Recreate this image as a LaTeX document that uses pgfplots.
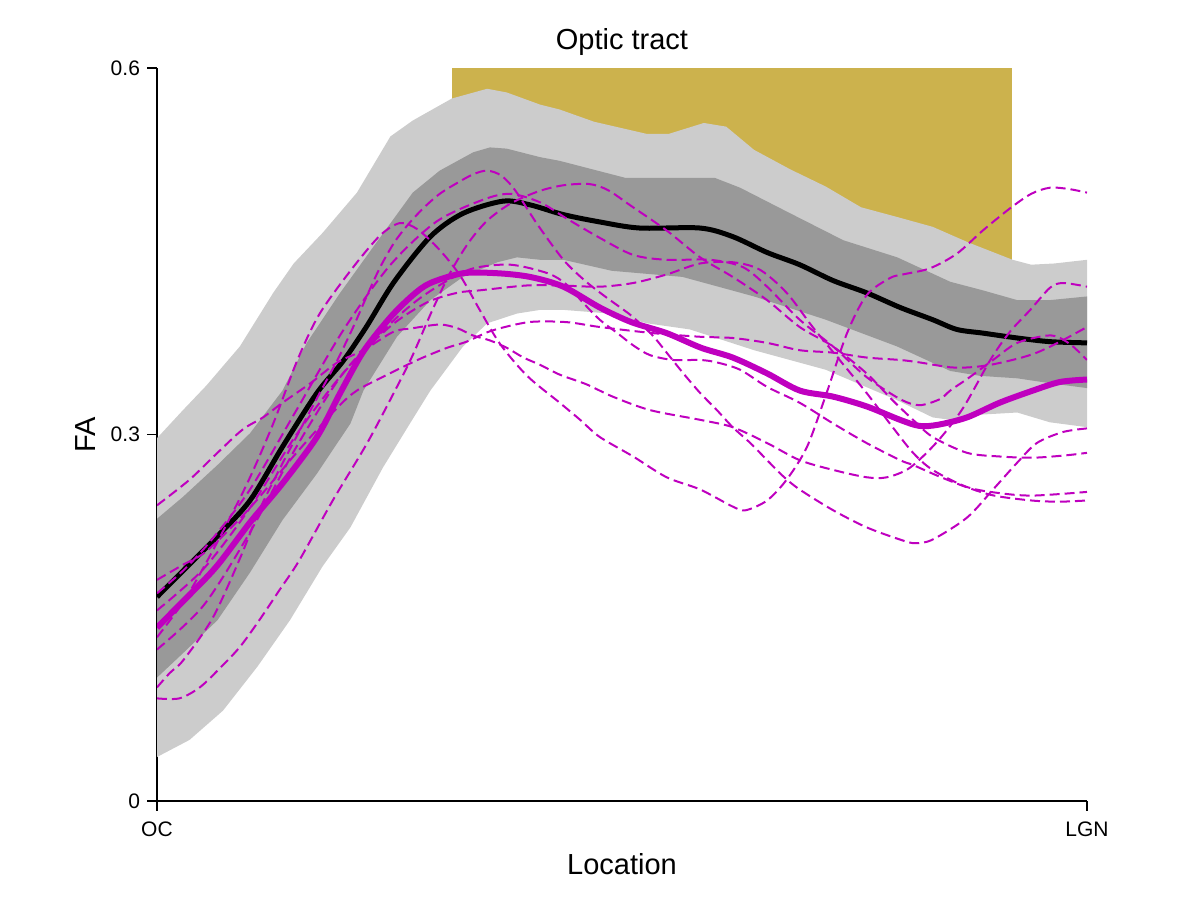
\documentclass[border=0pt]{standalone}
\usepackage{fontspec}
\setmainfont{Liberation Sans}
\usepackage{pgfplots}
\pgfplotsset{compat=1.18}
\definecolor{lgray}{RGB}{204,204,204}
\definecolor{dgray}{RGB}{153,153,153}
\definecolor{gold}{RGB}{204,178,77}
\definecolor{mag}{RGB}{191,0,191}
\begin{document}
\begin{tikzpicture}
\path[use as bounding box] (0,0) rectangle (600pt,450pt);
\begin{axis}[
  at={(78.5pt,49.5pt)}, anchor=south west,
  width=465pt, height=366.5pt, scale only axis,
  xmin=0, xmax=100, ymin=0, ymax=0.6,
  axis x line*=bottom, axis y line*=left,
  axis line style={-, line width=0.6pt, black},
  every outer x axis line/.append style={-},
  every outer y axis line/.append style={-},
  tick align=outside, major tick length=5pt,
  tick style={line width=0.6pt, black},
  xtick={0,100}, xticklabels={OC,LGN},
  ytick={0,0.3,0.6}, yticklabels={0,0.3,0.6},
  ticklabel style={font=\fontsize{10.5}{12}\selectfont},
  xticklabel style={yshift=-2pt},
  title={Optic tract},
  title style={font=\fontsize{14.5}{17}\selectfont, at={(axis description cs:0.5,1.019)}, anchor=center, yshift=0pt},
  xlabel={Location},
  xlabel style={font=\fontsize{14.5}{17}\selectfont, at={(axis description cs:0.5,-0.0859)}, anchor=center},
  ylabel={FA},
  ylabel style={font=\fontsize{14.5}{17}\selectfont, at={(axis description cs:-0.0774,0.5)}, anchor=center},
  no markers,
]
% significance region
\addplot[draw=none, fill=gold] coordinates {(31.7,0.42) (91.9,0.42) (91.9,0.6) (31.7,0.6)};
% light band
\addplot[draw=none, fill=lgray] coordinates {
(0,0.297)(2.8,0.320)(5.3,0.340)(8.9,0.372)(12.5,0.416)(14.7,0.440)(17.8,0.465)(21.5,0.498)(25.1,0.544)(27.5,0.557)(31.7,0.575)(35.5,0.583)(37.6,0.580)(41.2,0.570)(43.3,0.566)(47,0.556)(52.7,0.546)(55,0.546)(58.8,0.555)(61.2,0.552)(64.2,0.533)(68.1,0.517)(71.9,0.503)(75.7,0.486)(79.6,0.478)(83.4,0.470)(87.3,0.457)(92,0.443)(94,0.439)(96.5,0.440)(100,0.443)
(100,0.306)(96,0.310)(92.5,0.318)(88,0.316)(85.3,0.312)(83.4,0.314)(79.6,0.328)(71.9,0.353)(64.2,0.369)(57.3,0.386)(52.7,0.391)(48.7,0.399)(43.7,0.402)(41.2,0.402)(38.7,0.399)(35.5,0.391)(32.9,0.372)(29.4,0.336)(27.2,0.309)(24.3,0.273)(20.8,0.224)(17.8,0.192)(14.3,0.148)(10.8,0.110)(7.1,0.074)(3.5,0.050)(0,0.036)};
% dark band
\addplot[draw=none, fill=dgray] coordinates {
(0,0.231)(2.8,0.249)(6.5,0.275)(10,0.301)(13.5,0.336)(16.1,0.375)(19.7,0.416)(23.2,0.453)(27.5,0.498)(30.4,0.516)(34,0.531)(35.8,0.535)(37.6,0.534)(41.2,0.527)(43.3,0.524)(50.4,0.510)(58.1,0.510)(60,0.510)(62.7,0.502)(68.1,0.481)(73.8,0.459)(79.6,0.445)(85.3,0.425)(88.8,0.418)(92.5,0.410)(96,0.410)(100,0.413)
(100,0.338)(96,0.342)(92.5,0.346)(88.5,0.348)(85.3,0.352)(79.6,0.372)(71.9,0.394)(64.2,0.413)(56.5,0.429)(48.9,0.434)(43.7,0.443)(41.2,0.443)(38.7,0.445)(36.6,0.441)(32.9,0.429)(29.4,0.410)(25.8,0.380)(22.2,0.336)(20.8,0.309)(17.2,0.268)(13.5,0.230)(10,0.187)(6.5,0.148)(2.8,0.121)(0,0.101)};
% black mean
\addplot[black, line width=2.5pt, smooth] coordinates {
(0,0.167)(3,0.19)(6.4,0.216)(10,0.246)(13.5,0.290)(17.2,0.334)(20,0.360)(22.5,0.388)(25.5,0.425)(29.4,0.462)(32.9,0.481)(37.2,0.491)(40.1,0.488)(43.7,0.480)(47.6,0.474)(51.9,0.469)(58.4,0.469)(61.9,0.462)(65.6,0.449)(69.1,0.439)(72.7,0.426)(76.3,0.416)(79.9,0.404)(83.4,0.394)(86,0.386)(88.8,0.383)(92.5,0.379)(96,0.376)(100,0.375)};
% magenta mean
\addplot[mag, line width=3pt, smooth] coordinates {
(0,0.142)(3,0.165)(6.4,0.192)(10,0.228)(13.5,0.260)(17.2,0.298)(19.7,0.334)(22.2,0.368)(25.1,0.396)(27.5,0.414)(29.4,0.424)(32.9,0.432)(36.6,0.432)(40.1,0.429)(43.7,0.421)(47.6,0.404)(51,0.392)(54.8,0.383)(58.5,0.371)(61.9,0.363)(65.6,0.350)(69.1,0.336)(72.7,0.331)(76.3,0.323)(79.9,0.312)(82,0.307)(84,0.308)(87.1,0.314)(90.6,0.326)(94.2,0.336)(97.1,0.343)(100,0.345)};
% individual subjects
\addplot[mag, line width=1pt, dash pattern=on 5pt off 2.5pt, smooth] coordinates {
(0,0.084)(2.4,0.084)(4.6,0.093)(6.8,0.109)(8.9,0.126)(11,0.148)(13.2,0.173)(15.3,0.197)(18.9,0.246)(22.6,0.293)(25.8,0.339)(27.5,0.365)(29.5,0.400)(31.5,0.432)(33.5,0.457)(35.5,0.475)(38,0.489)(41,0.499)(43.7,0.504)(46.5,0.505)(48.5,0.500)(51,0.487)(54.8,0.467)(58.4,0.445)(61.9,0.429)(65.6,0.410)(69.1,0.388)(72.7,0.372)(76.3,0.350)(79.1,0.328)(81.3,0.312)(83.4,0.298)(87.1,0.285)(90.6,0.282)(94.2,0.281)(97.8,0.283)(100,0.285)};
\addplot[mag, line width=1pt, dash pattern=on 5pt off 2.5pt, smooth] coordinates {
(0,0.242)(3.5,0.263)(6.5,0.285)(9.2,0.304)(11.4,0.314)(13.5,0.326)(16.5,0.342)(19.4,0.359)(22.2,0.369)(25.4,0.384)(27.5,0.387)(30.4,0.390)(32.3,0.387)(34,0.381)(35.8,0.377)(37.6,0.371)(39.4,0.363)(41.2,0.357)(43.3,0.349)(46.2,0.341)(49,0.331)(53,0.320)(58.4,0.312)(61.9,0.306)(65.6,0.293)(69.1,0.279)(72.7,0.271)(76.3,0.265)(78.5,0.265)(81,0.273)(84,0.295)(86.7,0.322)(89.6,0.361)(91.7,0.384)(93.9,0.402)(96,0.420)(97.4,0.424)(100,0.421)};
\addplot[mag, line width=1pt, dash pattern=on 5pt off 2.5pt, smooth] coordinates {
(0,0.134)(3,0.165)(6,0.205)(9.7,0.260)(12.5,0.309)(15.1,0.361)(17.5,0.399)(21.1,0.437)(24,0.463)(26.1,0.473)(28,0.468)(30.4,0.451)(32.6,0.430)(34.7,0.402)(36.9,0.374)(39.8,0.348)(43.3,0.326)(45.5,0.312)(47.6,0.298)(51.2,0.282)(54.8,0.265)(58.4,0.255)(61.9,0.241)(63.3,0.238)(65.6,0.246)(67.7,0.263)(69.9,0.290)(72,0.334)(74.2,0.383)(76.3,0.414)(78.8,0.428)(80.2,0.431)(83.1,0.436)(86,0.448)(88.8,0.467)(91.7,0.485)(94,0.497)(96,0.502)(98,0.501)(100,0.498)};
\addplot[mag, line width=1pt, dash pattern=on 5pt off 2.5pt, smooth] coordinates {
(0,0.093)(1.4,0.105)(2.8,0.115)(6,0.150)(9,0.200)(11,0.238)(13.2,0.272)(15.4,0.304)(17.5,0.334)(19.4,0.361)(21.1,0.388)(22.6,0.414)(24,0.437)(25.5,0.457)(26.9,0.471)(28.6,0.485)(30.4,0.497)(32.3,0.506)(34,0.513)(35.5,0.516)(37,0.512)(38.5,0.500)(40.9,0.472)(43.7,0.443)(46,0.426)(48,0.414)(50,0.403)(51.2,0.396)(53.3,0.381)(54.8,0.367)(56.6,0.350)(58.4,0.334)(60.2,0.320)(61.9,0.306)(63.8,0.293)(65.6,0.279)(67.3,0.266)(69.1,0.255)(72.7,0.238)(76.3,0.224)(79.9,0.214)(81.5,0.211)(83.4,0.214)(87.1,0.232)(89.9,0.255)(92.5,0.277)(94.6,0.293)(97.4,0.302)(100,0.305)};
\addplot[mag, line width=1pt, dash pattern=on 5pt off 2.5pt, smooth] coordinates {
(0,0.156)(5,0.190)(10,0.240)(15,0.300)(20,0.350)(25,0.388)(29,0.408)(32.3,0.416)(34.7,0.418)(39.8,0.422)(43.3,0.422)(47.6,0.421)(51.2,0.424)(54.8,0.431)(58.4,0.440)(61.9,0.441)(64.8,0.435)(67.7,0.416)(70.5,0.388)(73.4,0.361)(76.3,0.334)(79.1,0.306)(81.3,0.285)(83.4,0.271)(87.1,0.257)(90.6,0.252)(94.2,0.250)(100,0.253)};
\addplot[mag, line width=1pt, dash pattern=on 5pt off 2.5pt, smooth] coordinates {
(0,0.170)(3,0.190)(6,0.215)(10,0.255)(15,0.320)(20,0.385)(25,0.438)(30,0.474)(35,0.492)(38,0.497)(41.2,0.490)(44,0.477)(47.6,0.461)(51.2,0.447)(54.8,0.443)(59.5,0.443)(63,0.437)(65.6,0.421)(69.1,0.394)(72.7,0.372)(76.3,0.347)(79.9,0.329)(82,0.324)(84.2,0.329)(85.3,0.336)(87.4,0.347)(89.9,0.361)(92.5,0.375)(95.7,0.381)(97.1,0.379)(98.5,0.372)(100,0.361)};
\addplot[mag, line width=1pt, dash pattern=on 5pt off 2.5pt, smooth] coordinates {
(0,0.124)(5,0.160)(10,0.220)(15,0.290)(20,0.350)(25,0.390)(28,0.410)(31,0.425)(34,0.436)(38,0.439)(42,0.432)(44,0.423)(45.8,0.408)(47.6,0.394)(49.5,0.383)(51.2,0.373)(53,0.365)(55.5,0.361)(58.4,0.361)(60.2,0.359)(62.7,0.353)(65.6,0.339)(69.1,0.326)(72.7,0.309)(76.3,0.293)(79.9,0.279)(81.3,0.275)(84,0.266)(87,0.257)(90,0.250)(94,0.246)(97,0.245)(100,0.246)};
\addplot[mag, line width=1pt, dash pattern=on 5pt off 2.5pt, smooth] coordinates {
(0,0.181)(2.7,0.193)(5.4,0.205)(10,0.240)(15,0.285)(19.4,0.322)(21.5,0.336)(24.5,0.348)(26.9,0.357)(28.6,0.363)(31.2,0.371)(33.3,0.376)(36,0.385)(40,0.392)(44,0.392)(47.6,0.388)(53.3,0.383)(58.4,0.380)(61.9,0.379)(65.6,0.375)(69.1,0.369)(72.7,0.367)(76.3,0.363)(79.9,0.361)(82,0.359)(85.3,0.355)(87.4,0.355)(89.6,0.357)(92.5,0.362)(94.6,0.367)(97.1,0.376)(100,0.388)};
\end{axis}
\end{tikzpicture}
\end{document}
